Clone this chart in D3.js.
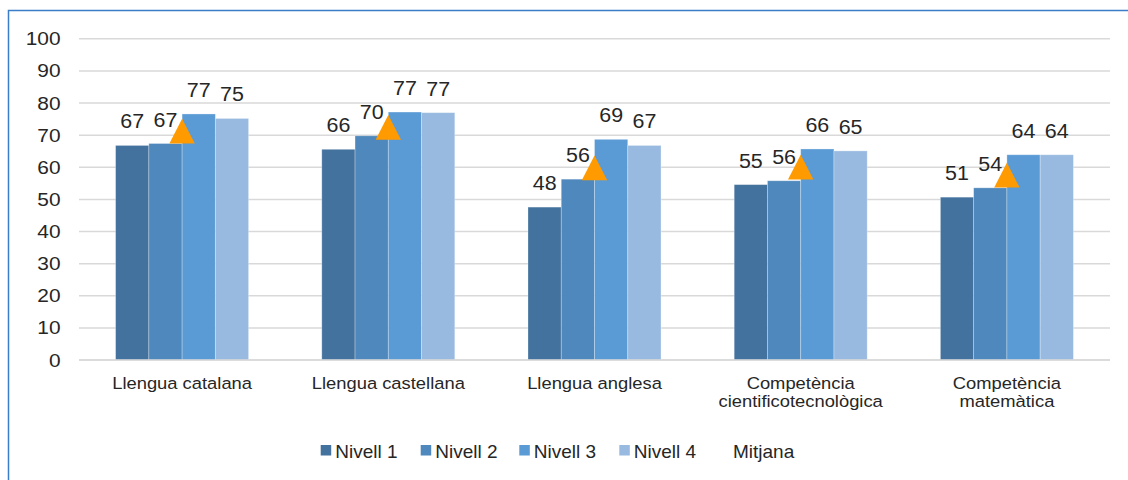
<!DOCTYPE html>
<html>
<head>
<meta charset="utf-8">
<script src="https://cdn.jsdelivr.net/npm/d3@7"></script>
<style>
  html, body { margin: 0; padding: 0; background: #fff; }
  svg { display: block; font-family: "Liberation Sans", Arial, sans-serif; }
</style>
</head>
<body>
<svg id="chart" width="1128" height="480"></svg>
<script>
// Competències: resultats per nivell i mitjana
const categories = [
  ["Llengua catalana"],
  ["Llengua castellana"],
  ["Llengua anglesa"],
  ["Competència", "cientificotecnològica"],
  ["Competència", "matemàtica"]
];
const seriesNames = ["Nivell 1", "Nivell 2", "Nivell 3", "Nivell 4"];
const nivell1 = [66.8, 65.6, 47.6, 54.6, 50.7];
const nivell2 = [67.4, 69.8, 56.3, 55.8, 53.6];
const nivell3 = [76.6, 77.2, 68.7, 65.7, 63.9];
const nivell4 = [75.2, 77.0, 66.8, 65.1, 63.9];
const mitjana = [71.2, 72.4, 59.8, 60.0, 57.5];
const yTicks = [0, 10, 20, 30, 40, 50, 60, 70, 80, 90, 100];

const series = [nivell1, nivell2, nivell3, nivell4];
const colors = ["#43729e", "#4e88bc", "#5b9bd5", "#98bae0"];
const markerColor = "#ff9a00";
const textColor = "#262626";

const svg = d3.select("#chart");
const W = 1128, H = 480;

// places a text at (x, y) with a slightly widened face
function label(parent, x, y, str, size, anchor, sx) {
  return parent.append("text")
    .attr("transform", `translate(${x},${y}) scale(${sx},1)`)
    .attr("text-anchor", anchor)
    .attr("font-size", size)
    .attr("fill", textColor)
    .text(str);
}

// frame
svg.append("rect")
  .attr("x", 8.5).attr("y", 10.5)
  .attr("width", W + 10).attr("height", H + 10)
  .attr("fill", "none")
  .attr("stroke", "#3b7dc8")
  .attr("stroke-width", 1.5);

const x0 = d3.scaleBand()
  .domain(d3.range(categories.length))
  .range([79, 1110])
  .paddingInner(0.355)
  .paddingOuter(0.1775);

const x1 = d3.scaleBand()
  .domain(d3.range(series.length))
  .range([0, x0.bandwidth()]);

const y = d3.scaleLinear().domain([0, 100]).range([360, 38.8]);

// gridlines
svg.append("g")
  .selectAll("line")
  .data(yTicks)
  .join("line")
  .attr("x1", 79).attr("x2", 1110)
  .attr("y1", d => y(d)).attr("y2", d => y(d))
  .attr("stroke", "#d9d9d9")
  .attr("stroke-width", 1.5);

// y tick labels
const gTicks = svg.append("g");
yTicks.forEach(t => label(gTicks, 60.5, y(t) + 6.5, String(t), 18, "end", 1.16));

// bars
const groups = svg.append("g")
  .selectAll("g")
  .data(categories.map((c, i) => i))
  .join("g")
  .attr("transform", i => `translate(${x0(i)},0)`);

groups.selectAll("rect")
  .data(i => series.map((s, k) => ({ k, v: s[i] })))
  .join("rect")
  .attr("x", d => x1(d.k))
  .attr("y", d => y(d.v))
  .attr("width", x1.bandwidth())
  .attr("height", d => y(0) - y(d.v))
  .attr("fill", d => colors[d.k])
  .attr("stroke", "rgba(255,255,255,0.35)")
  .attr("stroke-width", 0.8);

// value labels
const fmt = d3.format(".0f");
groups.each(function (i) {
  const g = d3.select(this);
  series.forEach((s, k) => {
    label(g, x1(k) + x1.bandwidth() / 2, y(s[i]) - 17, fmt(s[i]), 19.5, "middle", 1.1);
  });
});

// average markers (triangle centred on its bounding box)
const triLine = d3.line();
const triShape = triLine([[0, -12.5], [12.7, 12.3], [-12.7, 12.3]]) + "Z";
svg.append("g")
  .selectAll("path")
  .data(mitjana)
  .join("path")
  .attr("d", triShape)
  .attr("transform", (d, i) => `translate(${x0(i) + x0.bandwidth() / 2},${y(d)})`)
  .attr("fill", markerColor);

// baseline
svg.append("line")
  .attr("x1", 79).attr("x2", 1110)
  .attr("y1", y(0)).attr("y2", y(0))
  .attr("stroke", "#d9d9d9").attr("stroke-width", 1.5);

// category labels
const gCat = svg.append("g");
categories.forEach((lines, i) => {
  lines.forEach((ln, j) => {
    label(gCat, x0(i) + x0.bandwidth() / 2, 389 + j * 18, ln, 17, "middle", 1.08);
  });
});

// legend
const legendX = [320.7, 420.7, 519.3, 619.3];
const legend = svg.append("g");
seriesNames.forEach((name, k) => {
  legend.append("rect")
    .attr("x", legendX[k]).attr("y", 445)
    .attr("width", 10.5).attr("height", 10.5)
    .attr("fill", colors[k]);
  label(legend, legendX[k] + 14.5, 458, name, 19, "start", 1.0);
});
label(legend, 733, 458, "Mitjana", 19, "start", 1.0);
</script>
</body>
</html>
